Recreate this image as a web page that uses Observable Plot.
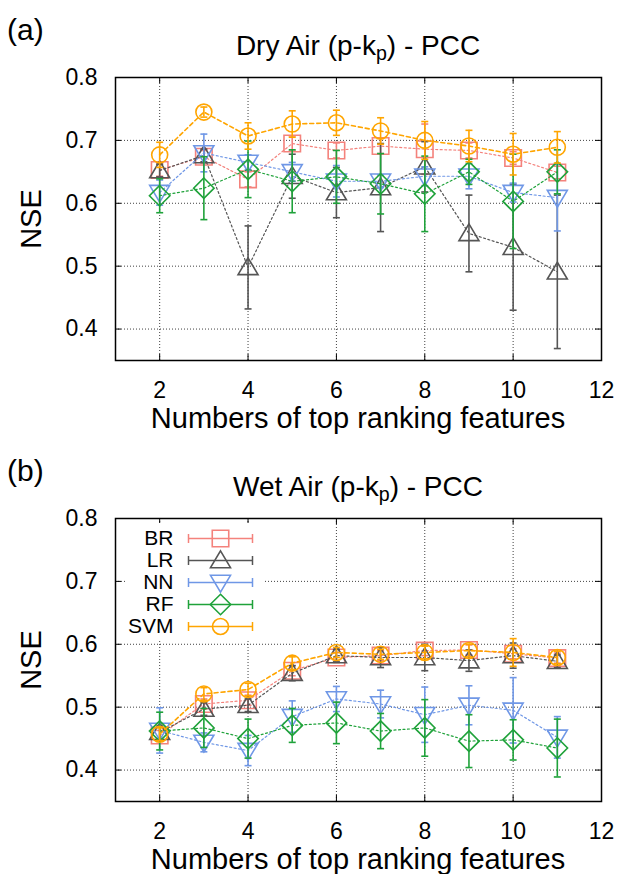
<!DOCTYPE html>
<html><head><meta charset="utf-8">
<script src="https://cdn.jsdelivr.net/npm/d3@7"></script>
<script src="https://cdn.jsdelivr.net/npm/@observablehq/plot@0.6"></script>
<style>
body{margin:0;background:#fff;font-family:"Liberation Sans",Arial,sans-serif;}
#root{position:relative;width:620px;height:874px;overflow:hidden;background:#fff;}
.lbl{position:absolute;white-space:nowrap;line-height:1;color:#000;}
.lbl sub{font-size:0.7em;vertical-align:-0.25em;line-height:0;}
</style></head><body><div id="root"></div>
<script>
const features = [2,3,4,5,6,7,8,9,10,11];
const models = ["BR","LR","NN","RF","SVM"];
const colors = ["#f4827c","#555555","#6f97e6","#1fa23a","#ffa500"];
const xTicks = [2,4,6,8,10,12];
const yTicks = [0.4,0.5,0.6,0.7,0.8];

// (a) Dry Air
const dryBR  = [0.653,0.674,0.638,0.695,0.684,0.691,0.686,0.684,0.672,0.649];
const dryLR  = [0.652,0.676,0.498,0.643,0.617,0.625,0.658,0.552,0.530,0.491];
const dryNN  = [0.617,0.680,0.665,0.650,0.635,0.635,0.643,0.643,0.617,0.609];
const dryRF  = [0.612,0.624,0.654,0.635,0.642,0.631,0.615,0.650,0.603,0.650];
const drySVM = [0.677,0.745,0.707,0.726,0.728,0.715,0.700,0.691,0.678,0.689];
const dryBRErr  = [0.01,0.01,0.012,0.012,0.012,0.012,0.04,0.012,0.01,0.01];
const dryLRErr  = [0.01,0.01,0.066,0.035,0.04,0.07,0.04,0.061,0.1,0.122];
const dryNNErr  = [0.02,0.03,0.012,0.015,0.025,0.01,0.015,0.02,0.015,0.053];
const dryRFErr  = [0.027,0.05,0.045,0.05,0.042,0.048,0.06,0.02,0.075,0.035];
const drySVMErr = [0.02,0.008,0.021,0.021,0.02,0.021,0.03,0.025,0.033,0.025];

// (b) Wet Air
const wetBR  = [0.455,0.505,0.511,0.558,0.579,0.582,0.590,0.591,0.585,0.578];
const wetLR  = [0.460,0.497,0.503,0.554,0.582,0.579,0.579,0.574,0.582,0.573];
const wetNN  = [0.463,0.444,0.431,0.485,0.513,0.505,0.488,0.503,0.495,0.452];
const wetRF  = [0.462,0.467,0.450,0.471,0.475,0.462,0.467,0.446,0.448,0.435];
const wetSVM = [0.457,0.521,0.528,0.570,0.587,0.584,0.587,0.590,0.587,0.579];
const wetBRErr  = [0.008,0.008,0.008,0.008,0.008,0.008,0.008,0.008,0.008,0.008];
const wetLRErr  = [0.01,0.01,0.01,0.012,0.01,0.016,0.021,0.017,0.02,0.01];
const wetNNErr  = [0.036,0.015,0.024,0.025,0.02,0.022,0.044,0.031,0.052,0.033];
const wetRFErr  = [0.03,0.031,0.031,0.027,0.033,0.028,0.045,0.042,0.032,0.046];
const wetSVMErr = [0.01,0.01,0.01,0.01,0.008,0.008,0.01,0.01,0.022,0.01];

const FONT = '"Liberation Sans", Arial, sans-serif';

// custom symbols (size = r*r*PI)
const rad = s => Math.sqrt(s / Math.PI);
const symSquare = {draw(c, s){const r = rad(s)*1.03; c.moveTo(-r,-r); c.lineTo(r,-r); c.lineTo(r,r); c.lineTo(-r,r); c.closePath();}};
const symTri = {draw(c, s){const r = rad(s); c.moveTo(0,-r*1.2); c.lineTo(r*1.25,r*0.9); c.lineTo(-r*1.25,r*0.9); c.closePath();}};
const symInvTri = {draw(c, s){const r = rad(s); c.moveTo(0,r*1.2); c.lineTo(r*1.25,-r*0.9); c.lineTo(-r*1.25,-r*0.9); c.closePath();}};
const symDiamond = {draw(c, s){const r = rad(s)*1.28; c.moveTo(0,-r); c.lineTo(r,0); c.lineTo(0,r); c.lineTo(-r,0); c.closePath();}};
const symCircle = {draw(c, s){const r = rad(s); c.moveTo(r,0); c.arc(0,0,r,0,2*Math.PI); c.closePath();}};
const symbols = [symSquare, symTri, symInvTri, symDiamond, symCircle];
const hCap = {draw(c){c.moveTo(-3.5,0); c.lineTo(3.5,0);}};
const vCap = {draw(c){c.moveTo(0,-4.5); c.lineTo(0,4.5);}};

function rowsFor(means, errs){
  return models.flatMap((m,k) => features.map((f,i) => ({
    model: m, x: f, y: means[k][i], lo: means[k][i] - errs[k][i], hi: means[k][i] + errs[k][i]
  })));
}

function panel(means, errs, mTop, mBottom){
  const W = 620, H = 437, mL = 115, mR = 19;
  const pw = W - mL - mR, ph = H - mTop - mBottom;
  const rows = rowsFor(means, errs);
  const marks = [
    Plot.gridX([2,4,6,8,10], {stroke:"#000", strokeOpacity:0.75, strokeDasharray:"1,2"}),
    Plot.gridY([0.4,0.5,0.6,0.7], {stroke:"#000", strokeOpacity:0.75, strokeDasharray:"1,2"}),
    Plot.ruleX([2,4,6,8,10], {stroke:"#000", insetTop: ph - 6}),
    Plot.ruleX([2,4,6,8,10], {stroke:"#000", insetBottom: ph - 6}),
    Plot.ruleY([0.4,0.5,0.6,0.7], {stroke:"#000", insetRight: pw - 6}),
    Plot.ruleY([0.4,0.5,0.6,0.7], {stroke:"#000", insetLeft: pw - 6}),
    Plot.axisY(yTicks, {tickSize:0, tickPadding:18, label:null, tickFormat: d => d.toFixed(1)}),
    Plot.axisX(xTicks, {tickSize:0, tickPadding:21, label:null}),
  ];
  models.forEach((m,k) => {
    const d = rows.filter(r => r.model === m);
    const col = colors[k];
    const isSVM = m === "SVM";
    marks.push(
      Plot.line(d, {x:"x", y:"y", stroke:col, strokeWidth: isSVM ? 1.6 : 1.2, strokeDasharray: isSVM ? "4,3" : "2,2.5"}),
      Plot.ruleX(d, {x:"x", y1:"lo", y2:"hi", stroke:col, strokeWidth:1.6}),
      Plot.dot(d, {x:"x", y:"hi", symbol: hCap, r:3, fill:"none", stroke:col, strokeWidth:1.6}),
      Plot.dot(d, {x:"x", y:"lo", symbol: hCap, r:3, fill:"none", stroke:col, strokeWidth:1.6}),
      Plot.dot(d, {x:"x", y:"y", symbol: symbols[k], r:8, fill:"none", stroke:col, strokeWidth:1.6})
    );
  });
  marks.push(Plot.frame({stroke:"#000", strokeWidth:1.5}));
  return Plot.plot({
    width: W, height: H,
    marginLeft: mL, marginRight: mR, marginTop: mTop, marginBottom: mBottom,
    x: {domain:[1,12], axis:null},
    y: {domain:[0.35,0.8], axis:null},
    style: {fontFamily: FONT, fontSize: "23px", color:"#000", background:"transparent", overflow:"visible"},
    marks
  });
}

function legend(){
  return Plot.plot({
    width: 140, height: 117, margin: 0,
    x: {domain:[0,140], range:[0,140], axis:null},
    y: {type:"point", domain: models, range:[14,104], padding:0, axis:null},
    color: {domain: models, range: colors},
    style: {fontFamily: FONT, fontSize: "21px", background:"#fff", color:"#000"},
    marks: [
      Plot.text(models, {x: () => 48, y: d => d, text: d => d, textAnchor:"end", fill:"#000"}),
      Plot.ruleY(models, {y: d => d, x1: () => 63, x2: () => 127, stroke: d => d, strokeWidth:1.5}),
      Plot.dot(models, {x: () => 63, y: d => d, symbol: vCap, r:3, fill:"none", stroke: d => d, strokeWidth:1.5}),
      Plot.dot(models, {x: () => 127, y: d => d, symbol: vCap, r:3, fill:"none", stroke: d => d, strokeWidth:1.5}),
      ...models.map((m,k) => Plot.dot([m], {x: () => 95, y: d => d, symbol: symbols[k], r:8, fill:"none", stroke: colors[k], strokeWidth:1.6}))
    ]
  });
}

const root = document.getElementById("root");
function place(el, left, top){ el.style.position="absolute"; el.style.left=left+"px"; el.style.top=top+"px"; root.appendChild(el); return el; }
function label(html, left, top, size, extra){
  const d = document.createElement("div");
  d.className = "lbl"; d.innerHTML = html; d.style.fontSize = size + "px";
  d.style.left = left + "px"; d.style.top = top + "px";
  if (extra) d.style.transform = extra;
  root.appendChild(d); return d;
}

const pa = panel([dryBR,dryLR,dryNN,dryRF,drySVM],[dryBRErr,dryLRErr,dryNNErr,dryRFErr,drySVMErr], 77, 77);
place(pa, 0, 0);
const pb = panel([wetBR,wetLR,wetNN,wetRF,wetSVM],[wetBRErr,wetLRErr,wetNNErr,wetRFErr,wetSVMErr], 81, 73);
place(pb, 0, 437);
place(legend(), 125, 523);

const titles = [["(a)","Dry Air (p-k<sub>p</sub>) - PCC"],["(b)","Wet Air (p-k<sub>p</sub>) - PCC"]];
titles.forEach(([tag, t], i) => {
  const off = i * 441;
  label(tag, 7, 15 + off, 30);
  label(t, 358, 32 + off, 28, "translateX(-50%)");
  label("NSE", 31, 219 + off, 29, "translate(-50%,-50%) rotate(-90deg)");
  label("Numbers of top ranking features", 358, 404 + off, 29, "translateX(-50%)");
});
</script></body></html>
